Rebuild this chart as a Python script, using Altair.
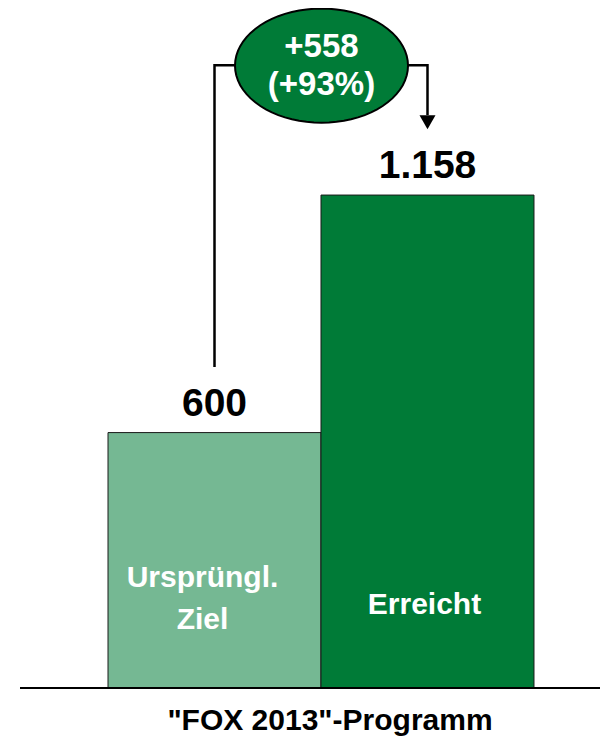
import altair as alt
import numpy as np
import pandas as pd

FONT = "Liberation Sans"

# ---- data ----
categories = ["Ziel", "Erreicht"]
bar_values = [600, 1158]
value_labels = ["600", "1.158"]
inner_labels = ["Ursprüngl.\nZiel", "Erreicht"]
bar_colors = ["#75B893", "#007B37"]
delta_text = "+558\n(+93%)"
title_text = '"FOX 2013"-Programm'

# connector (bracket) from first bar label to second bar, in data units
bracket_cat = ["Ziel", "Ziel", "Erreicht", "Erreicht"]
bracket_val = [754, 1463, 1463, 1346]
arrow_tip_val = 1329
ellipse_val = 1462

DARK = "#007B37"

# ellipse symbol outline (unit shape, scaled by the mark size)
_t = np.linspace(0, 2 * np.pi, 72, endpoint=False)
ELLIPSE_PATH = "M" + " L".join(f"{np.cos(a):.4f},{0.66 * np.sin(a):.4f}" for a in _t) + " Z"

bars_df = pd.DataFrame({"cat": categories, "value": bar_values,
                        "vlabel": value_labels, "inner": inner_labels,
                        "zero": [0, 0]})
bracket_df = pd.DataFrame({"cat": bracket_cat, "val": bracket_val,
                           "i": list(range(len(bracket_cat)))})
arrow_df = pd.DataFrame({"cat": ["Erreicht"], "val": [arrow_tip_val]})
ell_df = pd.DataFrame({"val": [ellipse_val], "t": [delta_text]})
title_df = pd.DataFrame({"t": [title_text]})
base_df = pd.DataFrame({"zero": [0]})

W = 592
H = 731
xscale = alt.Scale(domain=categories, paddingInner=0, paddingOuter=0.3897, align=0.6024)
yscale = alt.Scale(domain=[-(H - 680) / 0.4257, 1597.4], nice=False, zero=False)

X = alt.X("cat:N", scale=xscale, axis=None)

bars = alt.Chart(bars_df).mark_bar(stroke="#1a1a1a", strokeWidth=1).encode(
    x=X,
    y=alt.Y("value:Q", scale=yscale, axis=None),
    y2="zero:Q",
    color=alt.Color("cat:N", scale=alt.Scale(domain=categories, range=bar_colors), legend=None),
)

vlabels = alt.Chart(bars_df).mark_text(
    baseline="alphabetic", dy=-17, fontSize=39, fontWeight="bold", font=FONT, color="black"
).encode(x=X, y=alt.Y("value:Q", scale=yscale, axis=None), text="vlabel:N")

inner1 = alt.Chart(bars_df).transform_filter(alt.datum.cat == "Ziel").mark_text(
    lineBreak="\n", lineHeight=42, baseline="middle", fontSize=30, fontWeight="bold",
    font=FONT, color="white", dx=-12
).encode(x=X, y=alt.value(570), text="inner:N")

inner2 = alt.Chart(bars_df).transform_filter(alt.datum.cat == "Erreicht").mark_text(
    baseline="middle", fontSize=30, fontWeight="bold", font=FONT, color="white", dx=-3
).encode(x=X, y=alt.value(597), text="inner:N")

bracket = alt.Chart(bracket_df).mark_line(
    color="black", strokeWidth=2.5, strokeJoin="miter", strokeCap="butt"
).encode(x=X, y=alt.Y("val:Q", scale=yscale, axis=None), order="i:O")

arrow = alt.Chart(arrow_df).mark_point(
    shape="M-1,-0.875 L1,-0.875 L0,0.875 Z", size=256, filled=True,
    fill="black", opacity=1
).encode(x=X, y=alt.Y("val:Q", scale=yscale, axis=None))

ellipse = alt.Chart(ell_df).mark_point(
    shape=ELLIPSE_PATH, size=29929, filled=True,
    fill=DARK, stroke="black", strokeWidth=2, opacity=1
).encode(x=alt.value(313.5), y=alt.Y("val:Q", scale=yscale, axis=None))

delta = alt.Chart(ell_df).mark_text(
    lineBreak="\n", lineHeight=38, baseline="middle", fontSize=33, fontWeight="bold",
    font=FONT, color="white", dy=-19
).encode(x=alt.value(313.5), y=alt.Y("val:Q", scale=yscale, axis=None), text="t:N")

baseline = alt.Chart(base_df).mark_rule(color="black", strokeWidth=2).encode(
    x=alt.value(12), x2=alt.value(W), y=alt.Y("zero:Q", scale=yscale, axis=None)
)

title = alt.Chart(title_df).mark_text(
    baseline="alphabetic", fontSize=30, fontWeight="bold", font=FONT, color="black"
).encode(x=alt.value(322), y=alt.value(722), text="t:N")

chart = alt.layer(
    bars, baseline, vlabels, inner1, inner2, bracket, arrow, ellipse, delta, title
).properties(
    width=W, height=H, autosize=alt.AutoSizeParams(type="none"), padding=0
).configure_view(stroke=None)

chart.save("out.html", embed_options={"renderer": "svg", "actions": False})
